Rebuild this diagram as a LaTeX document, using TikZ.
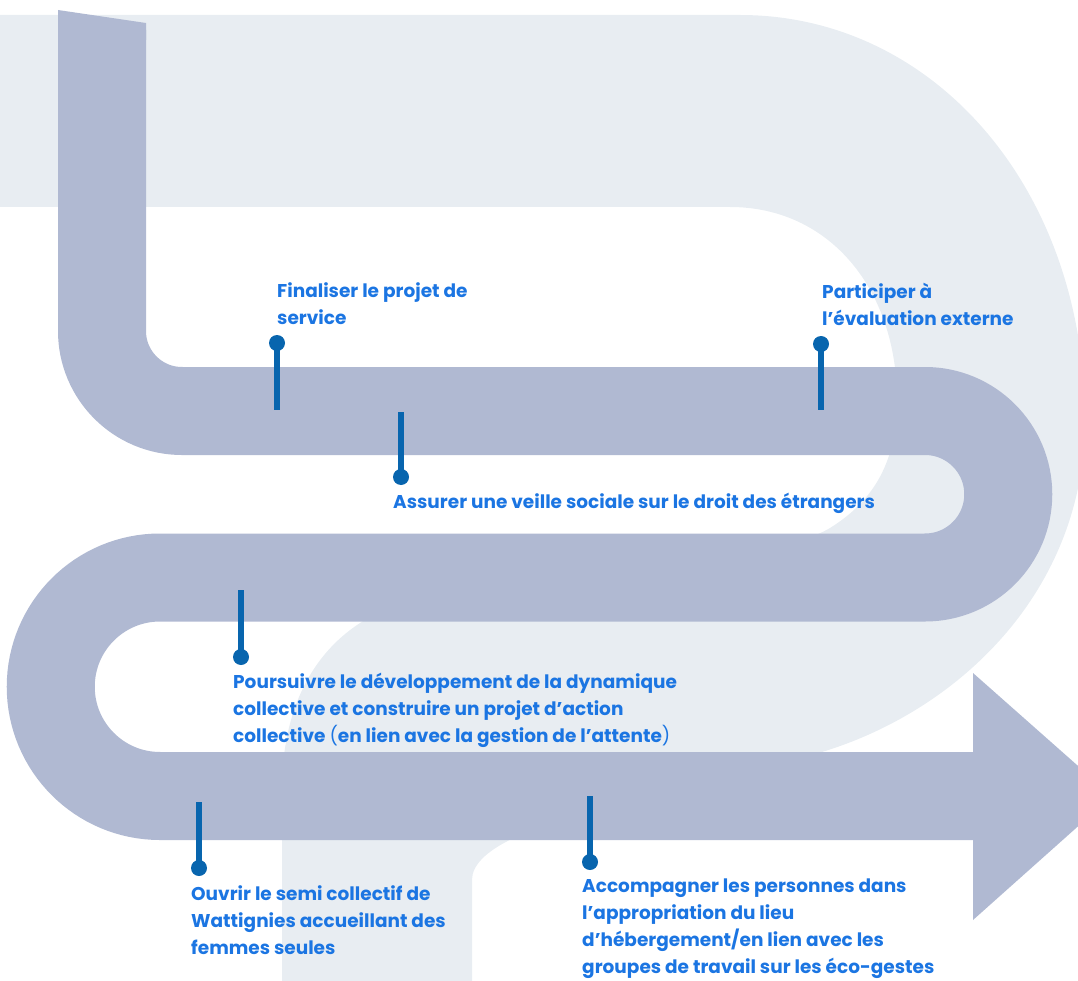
\documentclass[tikz,border=0pt]{standalone}
\usepackage{fontspec}
\setmainfont{Poppins}
\definecolor{bgband}{RGB}{232,237,242}
\definecolor{roadblue}{RGB}{176,185,210}
\definecolor{stemblue}{RGB}{8,101,174}
\definecolor{textblue}{RGB}{27,117,226}
\tikzset{
    stemline/.style = {stemblue, line width = 5.5pt},
    stemdot/.style = {circle, fill = stemblue, inner sep = 0pt, minimum size = 16pt},
    milestone/.style = {anchor = base west, inner sep = 0pt, align = left, text = textblue,
        font = \bfseries\fontsize{18.5}{27.3}\selectfont},
}
\begin{document}
\begin{tikzpicture}[x = 1pt, y = -1pt]
    \pgfmathsetmacro{\rowA}{411}; % first band
    \pgfmathsetmacro{\rowB}{577.5}; % second band
    \pgfmathsetmacro{\rowC}{796}; % third band
    \pgfmathsetmacro{\lh}{27.3}; % line height

    \useasboundingbox (0, 0) rectangle (1078, 981);
    \clip (0, 0) rectangle (1078, 981);

    % the big light "2" behind
    \fill [bgband] (0, 15) -- (740, 15) .. controls (935, 15) and (1085, 190) .. (1085, 420)
        .. controls (1085, 590) and (960, 710) .. (822, 752)
        .. controls (700, 790) and (472, 820) .. (472, 880) -- (472, 990) -- (282, 990) -- (282, 790)
        .. controls (282, 700) and (320, 640) .. (380, 612)
        .. controls (520, 560) and (760, 570) .. (830, 528)
        .. controls (875, 500) and (897, 460) .. (897, 400)
        .. controls (897, 290) and (830, 207) .. (730, 207) -- (0, 207) -- cycle;

    % the road
    \fill [roadblue] (58, 10) -- (146, 23) -- (146, 40) -- (58, 40) -- cycle;
    \draw [roadblue, line width = 88pt] (102, 30) -- (102, 331) arc [start angle = 180, end angle = 90, radius = 80]
        -- (925, \rowA) arc [start angle = -90, end angle = 90, radius = 83.25]
        -- (160, \rowB) arc [start angle = -90, end angle = -270, radius = 109.25]
        -- (975, \rowC);
    \fill [roadblue] (973, 673) -- (1112, 796) -- (973, 920) -- cycle;

    % milestones (base = last line)
    \node [stemdot] (dotA) at (277, 343) {};
    \coordinate (footA) at (277, 410);
    \draw [stemline] (dotA.center) -- (footA);
    \node [milestone] (textA) at (277, 297 + \lh) {Finaliser le projet de\\service};

    \node [stemdot] (dotB) at (821, 344) {};
    \coordinate (footB) at (821, 410);
    \draw [stemline] (dotB.center) -- (footB);
    \node [milestone] (textB) at (822, 298 + \lh) {Participer à\\l’évaluation externe};

    \node [stemdot] (dotC) at (401, 477) {};
    \coordinate (footC) at (401, 412);
    \draw [stemline] (dotC.center) -- (footC);
    \node [milestone] (textC) at (393, 508) {Assurer une veille sociale sur le droit des étrangers};

    \node [stemdot] (dotD) at (241, 657) {};
    \coordinate (footD) at (241, 590);
    \draw [stemline] (dotD.center) -- (footD);
    \node [milestone] (textD) at (233, 688 + 2*\lh) {Poursuivre le développement de la dynamique\\collective et construire un projet d’action\\collective {\mdseries(}en lien avec la gestion de l’attente{\mdseries)}};

    \node [stemdot] (dotE) at (199, 868) {};
    \coordinate (footE) at (199, 802);
    \draw [stemline] (dotE.center) -- (footE);
    \node [milestone] (textE) at (191, 900 + 2*\lh) {Ouvrir le semi collectif de\\Wattignies accueillant des\\femmes seules};

    \node [stemdot] (dotF) at (590, 862) {};
    \coordinate (footF) at (590, 796);
    \draw [stemline] (dotF.center) -- (footF);
    \node [milestone] (textF) at (582, 892 + 3*\lh) {Accompagner les personnes dans\\l’appropriation du lieu\\d’hébergement/en lien avec les\\groupes de travail sur les éco-gestes};
\end{tikzpicture}
\end{document}
